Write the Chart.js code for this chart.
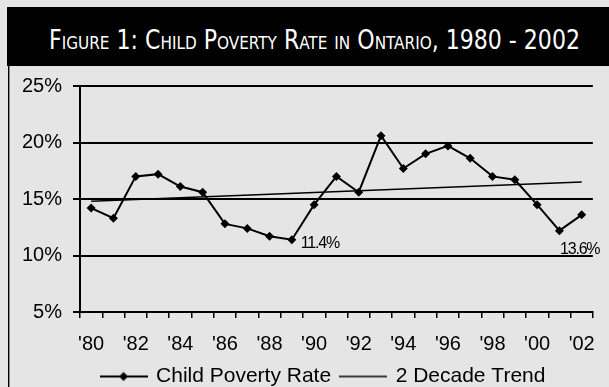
<!DOCTYPE html>
<html>
<head>
<meta charset="utf-8">
<script src="https://cdn.jsdelivr.net/npm/chart.js@4/dist/chart.umd.min.js"></script>
<style>
    body { margin: 0; background: #e5e5e5; width: 609px; height: 387px; overflow: hidden; position: relative; }
    #title-bar { position: absolute; left: 7px; top: 7px; width: 602px; height: 59px; background: #000; }
    #title-text { position: absolute; left: 49px; top: 24px; white-space: nowrap; color: #fff;
        font-family: "Liberation Sans Narrow", "DejaVu Sans Condensed", "Liberation Sans", sans-serif;
        font-size: 26px; font-variant: small-caps; line-height: 32px; transform-origin: 0 0; }
    #frame { position: absolute; left: 8px; top: 66px; width: 1px; height: 321px; background: #000; border-right: 1px solid #888; }
    #chart { position: absolute; left: 10px; top: 63px; }
</style>
</head>
<body>
<div id="title-bar"></div>
<span id="title-text">Figure 1: Child Poverty Rate in Ontario, 1980 - 2002</span>
<div id="frame"></div>
<canvas id="chart" width="599" height="334"></canvas>
<script>
const years = ["'80", "'81", "'82", "'83", "'84", "'85", "'86", "'87", "'88", "'89", "'90", "'91",
    "'92", "'93", "'94", "'95", "'96", "'97", "'98", "'99", "'00", "'01", "'02"];
const povertyRate = [14.2, 13.3, 17.0, 17.2, 16.1, 15.6, 12.8, 12.4, 11.7, 11.4, 14.5, 17.0,
    15.6, 20.6, 17.7, 19.0, 19.7, 18.6, 17.0, 16.7, 14.5, 12.2, 13.6];
// trend line: only the two end values, joined by spanGaps
const trendRate = [14.8, null, null, null, null, null, null, null, null, null, null, null,
    null, null, null, null, null, null, null, null, null, null, 16.5];
const labelledPoints = [9, 22];
const yTicks = [5, 10, 15, 20, 25];

function fitTitle() {
    const t = document.getElementById("title-text");
    const w = t.getBoundingClientRect().width;
    t.style.transform = "scaleX(" + (531 / w) + ")";
}

function legendImage(withMarker, lineWidth) {
    const c = document.createElement("canvas");
    c.width = 48;
    c.height = 12;
    const g = c.getContext("2d");
    g.strokeStyle = "#000";
    g.lineWidth = lineWidth;
    g.beginPath();
    g.moveTo(0, 6);
    g.lineTo(48, 6);
    g.stroke();
    if (withMarker) {
        g.fillStyle = "#000";
        g.beginPath();
        g.moveTo(24, 1.5);
        g.lineTo(28.5, 6);
        g.lineTo(24, 10.5);
        g.lineTo(19.5, 6);
        g.closePath();
        g.fill();
    }
    return c;
}

// legend sits a little right of the canvas centre in the original
const legendShift = {
    id: "legendShift",
    afterLayout(chart) {
        chart.legend.left += 20;
        chart.legend.right += 20;
    }
};

const pointLabels = {
    id: "pointLabels",
    afterDatasetsDraw(chart) {
        const ctx = chart.ctx;
        const meta = chart.getDatasetMeta(0);
        ctx.save();
        ctx.fillStyle = "#000";
        ctx.font = "16px 'Liberation Sans', Arial, sans-serif";
        ctx.letterSpacing = "-1.2px";
        ctx.textBaseline = "middle";
        labelledPoints.forEach((i, n) => {
            const p = meta.data[i];
            const text = povertyRate[i].toFixed(1) + "%";
            if (n === 0) {
                ctx.textAlign = "left";
                ctx.fillText(text, p.x + 9, p.y + 4);
            } else {
                ctx.textAlign = "center";
                ctx.fillText(text, p.x - 2, p.y + 35);
            }
        });
        ctx.restore();
    }
};

function renderChart() {
    const ctx = document.getElementById("chart").getContext("2d");
    Chart.defaults.font.family = "'Liberation Sans', Arial, sans-serif";
    Chart.defaults.color = "#000";
    new Chart(ctx, {
        type: "line",
        data: {
            labels: years,
            datasets: [{
                label: "Child Poverty Rate",
                data: povertyRate,
                borderColor: "#000",
                backgroundColor: "#000",
                borderWidth: 2,
                pointStyle: "rectRot",
                pointRadius: 4.5,
                pointBorderWidth: 0,
                tension: 0
            }, {
                label: "2 Decade Trend",
                data: trendRate,
                borderColor: "#000",
                borderWidth: 1.5,
                pointRadius: 0,
                spanGaps: true
            }]
        },
        options: {
            responsive: false,
            animation: false,
            devicePixelRatio: 1,
            layout: { padding: { left: 0, top: 14, right: 12, bottom: 0 } },
            plugins: {
                tooltip: { enabled: false },
                legend: {
                    position: "bottom",
                    labels: {
                        usePointStyle: true,
                        pointStyleWidth: 44,
                        padding: 10,
                        font: { size: 21 },
                        generateLabels: () => [
                            { text: "Child Poverty Rate", pointStyle: legendImage(true, 2), datasetIndex: 0,
                              fillStyle: "transparent", strokeStyle: "transparent", lineWidth: 0, fontColor: "#000" },
                            { text: "2 Decade Trend", pointStyle: legendImage(false, 1.5), datasetIndex: 1,
                              fillStyle: "transparent", strokeStyle: "transparent", lineWidth: 0, fontColor: "#000" }
                        ]
                    }
                }
            },
            scales: {
                x: {
                    offset: true,
                    afterFit: s => { s.height = 44; },
                    grid: { offset: true, drawOnChartArea: false, tickLength: 6, color: "#000", lineWidth: 1.5 },
                    border: { color: "#000", width: 2 },
                    ticks: {
                        autoSkip: false,
                        maxRotation: 0,
                        padding: 14,
                        font: { size: 20 },
                        callback: (v, i) => (i % 2 === 0 ? years[i] : "")
                    }
                },
                y: {
                    min: 5,
                    max: 25,
                    afterFit: s => { s.width = 70; },
                    afterBuildTicks: s => { s.ticks = yTicks.map(v => ({ value: v })); },
                    grid: { color: "#000", lineWidth: 2, tickLength: 7 },
                    border: { color: "#000", width: 2 },
                    ticks: {
                        padding: 11,
                        font: { size: 20 },
                        callback: v => v + "%"
                    }
                }
            }
        },
        plugins: [legendShift, pointLabels]
    });
}

fitTitle();
renderChart();
</script>
</body>
</html>
